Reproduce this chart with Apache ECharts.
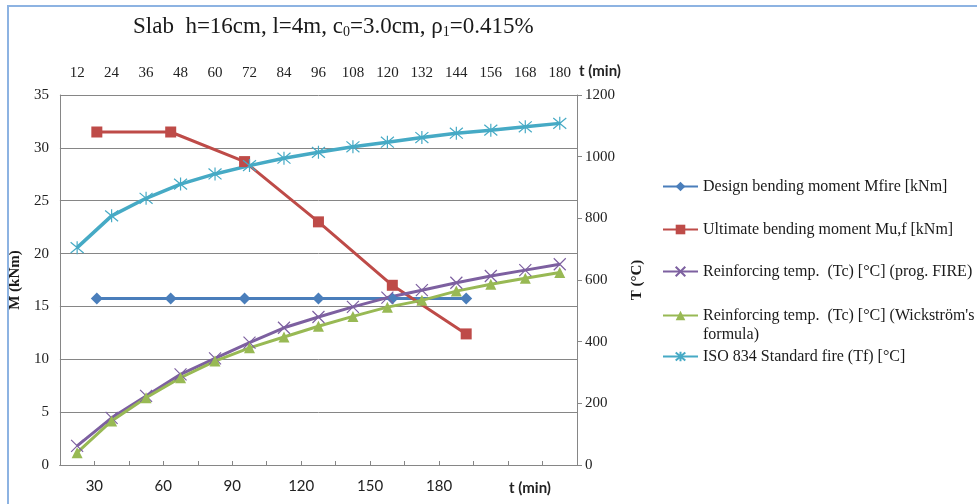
<!DOCTYPE html>
<html>
<head>
<meta charset="utf-8">
<script src="https://cdn.jsdelivr.net/npm/echarts@6/dist/echarts.min.js"></script>
<style>
  html, body { margin: 0; padding: 0; background: #fff; }
  #chart { width: 977px; height: 504px; }
  .frame {
    position: absolute; left: 7px; top: 5px; width: 970px; height: 499px;
    border-left: 2px solid #8db3e2; border-top: 2px solid #8db3e2;
    pointer-events: none;
  }
</style>
</head>
<body>
<div id="chart"></div>
<div class="frame"></div>
<script>
// time axis (top) for the temperature curves, every 12 min
const tempTimes = ['12', '24', '36', '48', '60', '72', '84', '96', '108', '120', '132', '144', '156', '168', '180']
// time categories for the bending moments (last band is empty, like the original sheet)
const momentTimes = ['30', '60', '90', '120', '150', '180', '']
// bottom axis tick labels
const bottomTicks = [30, 60, 90, 120, 150, 180]

const designMoment = [15.75, 15.75, 15.75, 15.75, 15.75, 15.75]
const ultimateMoment = [31.5, 31.5, 28.7, 23.0, 17.0, 12.4]

const tempFire = [62, 153, 224, 294, 346, 397, 445, 480, 513, 543, 567, 591, 613, 632, 651]
const tempWickstrom = [40, 143, 218, 283, 337, 380, 415, 450, 482, 512, 534, 564, 586, 606, 624]
const tempIso = [705, 808, 865, 911, 944, 971, 995, 1014, 1032, 1047, 1062, 1076, 1086, 1097, 1108]

const names = [
  'Design bending moment Mfire [kNm]',
  'Ultimate bending moment Mu,f [kNm]',
  'Reinforcing temp.  (Tc) [°C] (prog. FIRE)',
  'Reinforcing temp.  (Tc) [°C] (Wickström\'s\nformula)',
  'ISO 834 Standard fire (Tf) [°C]'
]
const colors = ['#4a7ebb', '#be4b48', '#7d60a0', '#98b954', '#46aac5']

const SERIF = '"Liberation Serif", "DejaVu Serif", serif'
const SANS = 'Lato, "Liberation Sans", sans-serif'
const GREY = '#868686'

// legend rows placed one by one, the wrapped one gets an empty first line
// so its icon sits next to the first text line
const legendTops = [177, 220, 262, 287, 347]
const legends = names.map((n, i) => ({
  data: [n],
  left: 662,
  top: legendTops[i],
  padding: 0,
  itemWidth: 35,
  itemHeight: 12,
  selectedMode: false,
  formatter: i === 3 ? (s => '\n' + s) : '{name}',
  textStyle: { fontFamily: SERIF, fontSize: 16, color: '#1a1a1a', lineHeight: 19 }
}))

const crossPath = 'path://M0,0L10,10M10,0L0,10'
const starPath = 'path://M0,0L10,10M10,0L0,10M5,-1L5,11'

const chart = echarts.init(document.getElementById('chart'))

chart.setOption({
  animation: false,
  title: {
    text: 'Slab  h=16cm, l=4m, c{sub|0}=3.0cm, ρ{sub|1}=0.415%',
    left: 128,
    top: 10,
    textStyle: {
      fontFamily: SERIF,
      fontSize: 23,
      fontWeight: 'normal',
      color: '#1a1a1a',
      rich: {
        sub: { fontFamily: SERIF, fontSize: 14, color: '#1a1a1a', padding: [10, 0, 0, 0] }
      }
    }
  },
  legend: legends,
  graphic: [
    {
      type: 'text', left: 579, top: 64,
      style: { text: 't (min)', fontFamily: SANS, fontSize: 15, fontWeight: 'bold', fill: '#222' }
    },
    {
      type: 'text', left: 509, top: 481,
      style: { text: 't (min)', fontFamily: SANS, fontSize: 15, fontWeight: 'bold', fill: '#222' }
    }
  ],
  grid: { left: 58, right: 400, top: 95, bottom: 39, containLabel: false },
  xAxis: [
    {
      // visible bottom time axis
      type: 'value',
      position: 'bottom',
      min: 15,
      max: 240,
      interval: 15,
      axisLine: { show: true, lineStyle: { color: GREY } },
      axisTick: { show: false },
      splitLine: { show: false },
      axisLabel: {
        margin: 14,
        fontFamily: SANS,
        fontSize: 15,
        color: '#222',
        formatter: v => bottomTicks.includes(v) ? String(v) : ''
      }
    },
    {
      // top time axis for temperatures
      type: 'category',
      position: 'top',
      data: tempTimes,
      boundaryGap: true,
      axisLine: { show: true, lineStyle: { color: GREY } },
      axisTick: { show: true, length: 4, lineStyle: { color: GREY } },
      axisLabel: { margin: 14, fontFamily: SERIF, fontSize: 15, color: '#222' }
    },
    {
      // hidden category axis carrying the moment points
      type: 'category',
      position: 'bottom',
      data: momentTimes,
      boundaryGap: true,
      show: false
    }
  ],
  yAxis: [
    {
      type: 'value',
      min: 0,
      max: 35,
      interval: 5,
      position: 'left',
      axisLine: { show: true, lineStyle: { color: GREY } },
      axisTick: { show: false },
      splitLine: { show: true, lineStyle: { color: GREY, width: 1 } },
      axisLabel: { margin: 11, fontFamily: SERIF, fontSize: 15, color: '#222' },
      name: 'M (kNm)',
      nameLocation: 'middle',
      nameRotate: 90,
      nameGap: 33,
      nameTextStyle: { fontFamily: SERIF, fontSize: 15, fontWeight: 'bold', color: '#1a1a1a' }
    },
    {
      type: 'value',
      min: 0,
      max: 1200,
      interval: 200,
      position: 'right',
      axisLine: { show: true, lineStyle: { color: GREY } },
      axisTick: { show: true, length: 5, lineStyle: { color: GREY } },
      splitLine: { show: false },
      axisLabel: {
        margin: 8, fontFamily: SERIF, fontSize: 15, color: '#222',
        formatter: v => String(v)
      },
      name: 'T (°C)',
      nameLocation: 'middle',
      nameRotate: 90,
      nameGap: 53,
      nameTextStyle: { fontFamily: SERIF, fontSize: 15, fontWeight: 'bold', color: '#1a1a1a' }
    }
  ],
  series: [
    {
      name: names[0], type: 'line', xAxisIndex: 2, yAxisIndex: 0,
      data: designMoment,
      symbol: 'diamond', symbolSize: 12,
      lineStyle: { width: 3, color: colors[0] },
      itemStyle: { color: colors[0] }
    },
    {
      name: names[1], type: 'line', xAxisIndex: 2, yAxisIndex: 0,
      data: ultimateMoment,
      symbol: 'rect', symbolSize: 11,
      lineStyle: { width: 3, color: colors[1] },
      itemStyle: { color: colors[1] }
    },
    {
      name: names[2], type: 'line', xAxisIndex: 1, yAxisIndex: 1,
      data: tempFire,
      symbol: crossPath, symbolSize: 12,
      lineStyle: { width: 3, color: colors[2] },
      itemStyle: { color: colors[2], borderColor: colors[2], borderWidth: 1.2 }
    },
    {
      name: names[3], type: 'line', xAxisIndex: 1, yAxisIndex: 1,
      data: tempWickstrom,
      symbol: 'triangle', symbolSize: 11,
      lineStyle: { width: 3, color: colors[3] },
      itemStyle: { color: colors[3] }
    },
    {
      name: names[4], type: 'line', xAxisIndex: 1, yAxisIndex: 1,
      data: tempIso,
      symbol: starPath, symbolSize: 13,
      lineStyle: { width: 3.5, color: colors[4] },
      itemStyle: { color: colors[4], borderColor: colors[4], borderWidth: 1.2 }
    }
  ]
})
</script>
</body>
</html>
